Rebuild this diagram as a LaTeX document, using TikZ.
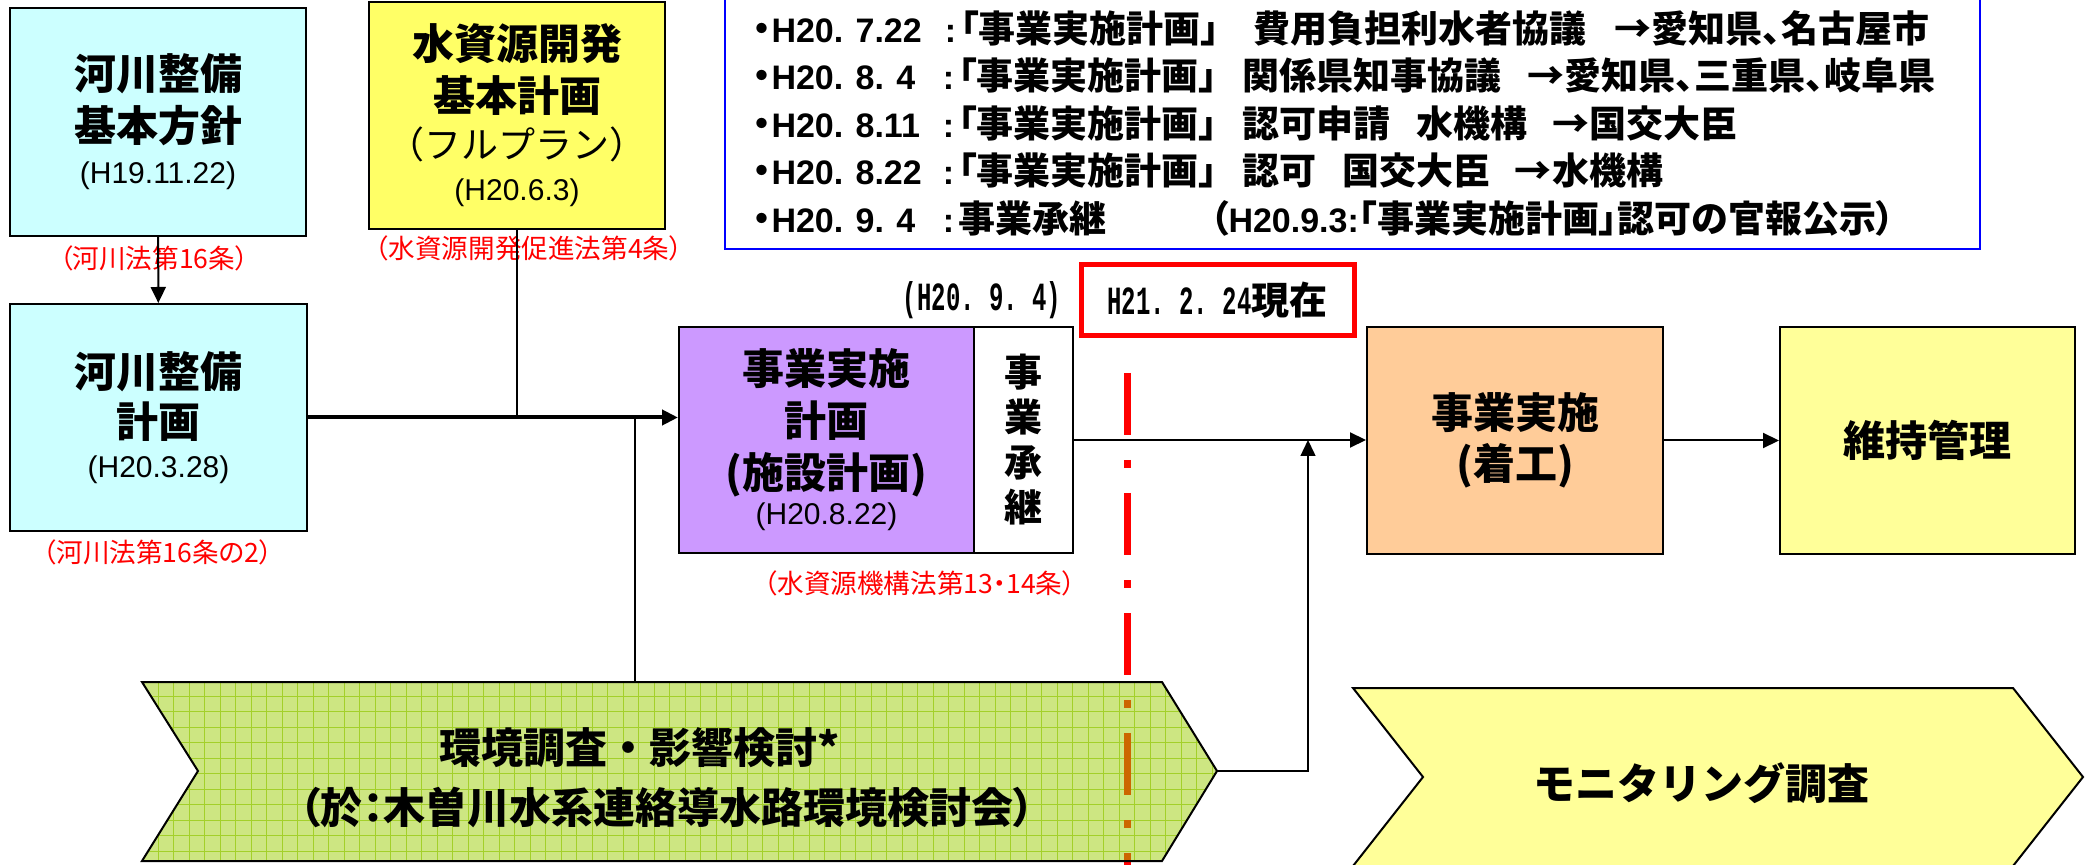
\documentclass[tikz,border=0pt]{standalone}
\usepackage{fontspec}
\usetikzlibrary{arrows.meta}
\setmainfont{Liberation Sans}
\newfontfamily\jp{Noto Sans CJK JP}
\newfontfamily\jpp{Noto Sans CJK JP}[RawFeature=+palt]
\newfontfamily\lat{Liberation Sans}
\newfontfamily\mono{Liberation Mono}[FakeStretch=0.6]
\frenchspacing
\definecolor{cyanF}{HTML}{CCFFFF}
\definecolor{yelC}{HTML}{FFFF66}
\definecolor{purF}{HTML}{CC99FF}
\definecolor{orgF}{HTML}{FFCC99}
\definecolor{yelL}{HTML}{FFFF99}
\definecolor{grnF}{HTML}{CDE682}
\definecolor{grnG}{HTML}{A3D02A}
\definecolor{redD}{HTML}{FF0000}
\definecolor{orgD}{HTML}{CC6600}
\definecolor{bluB}{HTML}{0000FF}
\newcommand\dte[1]{{\lat\mdseries\fontsize{15pt}{18pt}\selectfont #1}}
\newcommand\LB[1]{{\lat\bfseries\fontsize{17pt}{23.75pt}\selectfont #1}}
\newcommand\CL{\LB{:}\hspace{2pt}}
\tikzset{
  box/.style={draw=black, line width=1pt, inner sep=0pt, align=center,
    font=\jp\bfseries\fontsize{21pt}{26pt}\selectfont},
  lab/.style={text=redD, inner sep=0pt, font=\jpp\fontsize{13.3pt}{16pt}\selectfont},
  big/.style={inner sep=0pt, font=\jp\bfseries\fontsize{21pt}{26pt}\selectfont},
  bigp/.style={inner sep=0pt, font=\jpp\bfseries\fontsize{21pt}{26pt}\selectfont},
  arr/.style={-{Triangle[length=8pt,width=7.5pt]}},
  thinc/.style={line width=0.7pt, draw=black},
  medc/.style={line width=1pt, draw=black},
}
\begin{document}
\begin{tikzpicture}[x=0.5pt, y=-0.5pt]
\useasboundingbox (0,0) rectangle (2087,865);
\clip (0,0) rectangle (2087,865);

% red dash-dot "now" line
\draw[redD, line width=3.5pt, dash pattern=on 31pt off 12.5pt on 4pt off 12.5pt] (1127,373) -- (1127,880);

% green chevron
\fill[grnF] (142,682) -- (1162,682) -- (1217,771) -- (1162,861) -- (142,861) -- (198,771) -- cycle;
\begin{scope}
  \clip (142,682) -- (1162,682) -- (1217,771) -- (1162,861) -- (142,861) -- (198,771) -- cycle;
  \foreach \i in {0,...,70} {\draw[grnG, line width=0.5pt] ({142.5+15.5*\i},675) -- ++(0,195);}
  \foreach \j in {0,...,12} {\draw[grnG, line width=0.5pt] (135,{680.5+15.5*\j}) -- ++(1090,0);}
  \draw[orgD, line width=3.5pt, dash pattern=on 31pt off 12.5pt on 4pt off 12.5pt] (1127,373) -- (1127,880);
\end{scope}
\draw[line width=1pt] (142,682) -- (1162,682) -- (1217,771) -- (1162,861) -- (142,861) -- (198,771) -- cycle;
\node[big] (gt1) at (640,748) {環境調査・影響検討*};
\node[bigp] (gt2) at (667,808) {（於：木曽川水系連絡導水路環境検討会）};

% yellow chevron
\draw[fill=yelL, line width=1pt] (1353,688) -- (2013,688) -- (2083,777) -- (2013,866) -- (1353,866) -- (1423,777) -- cycle;
\node[big] (yt) at (1701,783) {モニタリング調査};

% boxes
\node[box, fill=cyanF, minimum width=148pt, minimum height=114pt] (A) at (158,122)
  {河川整備\\基本方針\\[-5pt]\dte{(H19.11.22)}};
\node[box, fill=cyanF, minimum width=148.5pt, minimum height=113.5pt] (B) at (158.5,417.5)
  {河川整備\\[-1pt]計画\\[-6pt]\dte{(H20.3.28)}};
\node[box, fill=yelC, minimum width=148pt, minimum height=113.5pt] (C) at (517,115.5)
  {水資源開発\\基本計画\\[-2.5pt]{\mdseries\fontsize{18.5pt}{20pt}\selectfont （フルプラン）}\\[-5pt]\dte{(H20.6.3)}};
\node[box, fill=purF, minimum width=147.5pt, minimum height=113pt] (P) at (826.5,440)
  {事業実施\\計画\\(施設計画)\\[-8pt]\dte{(H20.8.22)}};
\node[box, fill=white, minimum width=49.5pt, minimum height=113pt,
  font=\jp\bfseries\fontsize{19pt}{22.5pt}\selectfont] (W) at (1023.5,440)
  {事\\業\\承\\継};
\node[box, fill=orgF, minimum width=148pt, minimum height=113.5pt] (E) at (1515,440.5)
  {事業実施\\[-0.5pt](着工)};
\node[box, fill=yelL, minimum width=147.5pt, minimum height=113.5pt] (M) at (1927.5,440.5)
  {維持管理};

% red labels
\node[lab] (la) at (154,258) {（河川法第16条）};
\node[lab] (lc) at (529,248) {（水資源開発促進法第4条）};
\node[lab] (lb) at (158,552) {（河川法第16条の2）};
\node[lab] (lp) at (920,583) {（水資源機構法第13・14条）};

% dates
\node[inner sep=0pt, font=\mono\bfseries\fontsize{20pt}{24pt}\selectfont] (d94) at (982,300) {(H20. 9. 4)};
\node[draw=redD, line width=2.5pt, fill=white, inner sep=0pt, minimum width=136.5pt, minimum height=35.5pt] (R) at (1217.5,300.5)
  {{\mono\bfseries\fontsize{20pt}{24pt}\selectfont H21. 2. 24}{\jp\bfseries\fontsize{19pt}{22pt}\selectfont 現在}};

% history text box
\node[draw=bluB, line width=1.2pt, fill=white, text width=599.5pt, inner xsep=14pt, inner ysep=0pt,
  minimum height=126pt, align=left, font=\jpp\bfseries\fontsize{18.5pt}{23.75pt}\selectfont] (T) at (1352.5,123)
{\makebox[96pt][l]{・\LB{H20. 7.22}}\makebox[154pt][l]{\CL「事業実施計画」}\makebox[181pt][l]{費用負担利水者協議}→愛知県、名古屋市\\%
\makebox[95pt][l]{・\LB{H20. 8. 4}}\makebox[150pt][l]{\CL「事業実施計画」}\makebox[142.5pt][l]{関係県知事協議}→愛知県、三重県、岐阜県\\%
\makebox[95pt][l]{・\LB{H20. 8.11}}\makebox[150pt][l]{\CL「事業実施計画」}\makebox[87pt][l]{認可申請}\makebox[68pt][l]{水機構}→国交大臣\\%
\makebox[95pt][l]{・\LB{H20. 8.22}}\makebox[150pt][l]{\CL「事業実施計画」}\makebox[50pt][l]{認可}\makebox[86pt][l]{国交大臣}→水機構\\%
\makebox[95pt][l]{・\LB{H20. 9. 4}}\makebox[133.5pt][l]{\CL 事業承継}（\LB{H20.9.3:}「事業実施計画」認可の官報公示）};

% connectors
\draw[medc, arr] (A) -- (B);
\draw[thinc] (C.south) -- (C.south |- B.east);
\draw[line width=2pt, arr] (B.east) -- (B.east -| P.west);
\coordinate (j1) at (635,417.5);
\coordinate (g1) at (635,682);
\draw[thinc] (j1) -- (g1);
\draw[medc, arr] (W.east) -- (W.east -| E.west);
\coordinate (gtip) at (1217,771);
\coordinate (k1) at (1308,771);
\draw[thinc, arr] (gtip) -- (k1) -- (k1 |- W.east);
\draw[medc, arr] (E.east) -- (M.west);
\end{tikzpicture}
\end{document}
